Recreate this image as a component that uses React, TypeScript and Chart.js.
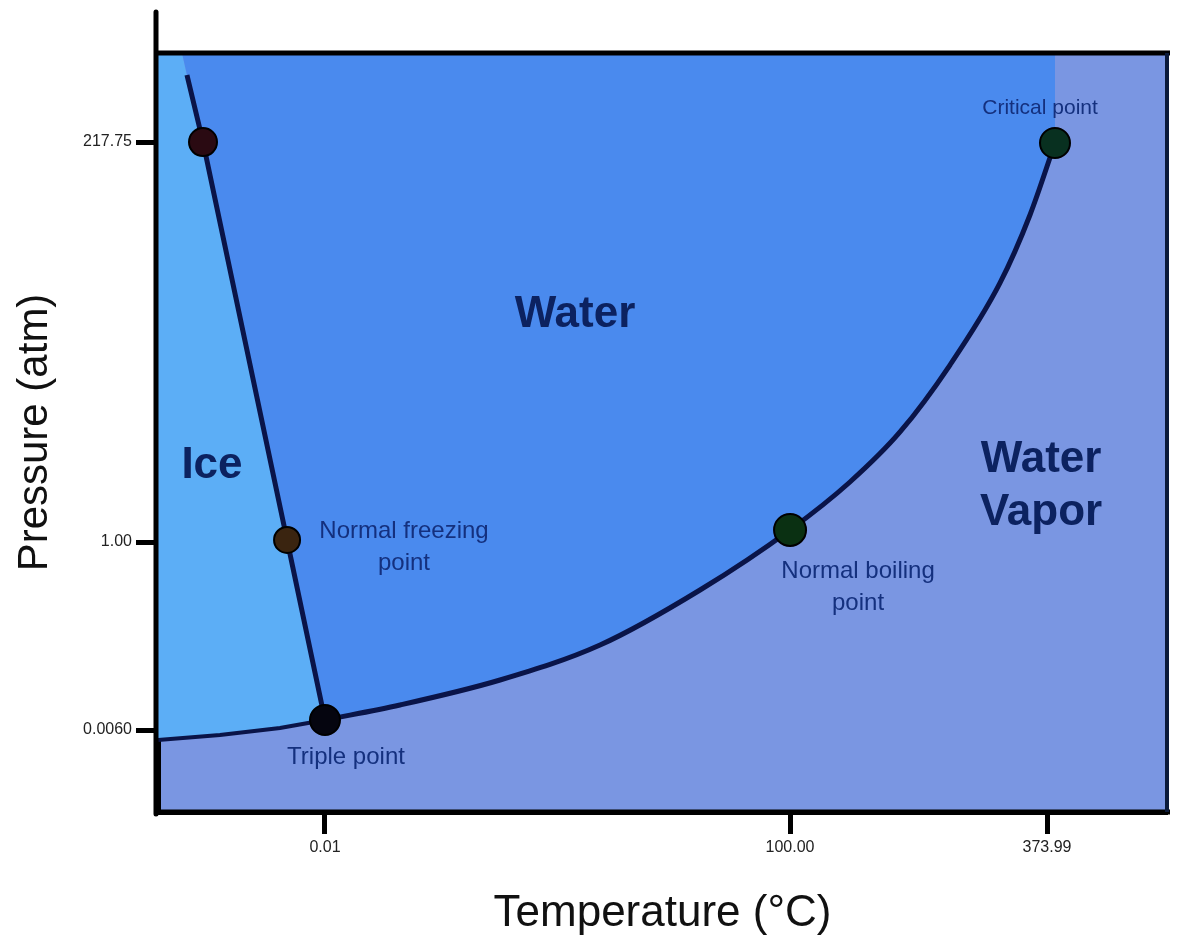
import { useEffect, useRef } from "react";
import { Chart, registerables } from "chart.js";

Chart.register(...registerables);

// Schematic diagram coordinates (0..100 on both axes, not to scale)
const meltX = [2.87, 4.46, 12.79, 16.55];
const meltY = [97.1, 88.27, 35.84, 12.12];
const meltTopX = 2.38; // where the melting line meets the top frame

const sublX = [0, 6.14, 12.09, 16.55];
const sublY = [9.49, 10.14, 11.07, 12.12];

const vapX = [16.55, 23.98, 33.9, 43.81, 53.72, 62.64, 68.58, 73.54, 78.49, 83.45, 86.42, 88.9];
const vapY = [12.12, 14.1, 17.39, 22.0, 29.25, 37.16, 43.48, 50.07, 58.89, 69.7, 78.66, 88.14];

const ptX = [4.46, 12.79, 16.55, 62.64, 88.9];
const ptY = [88.27, 35.84, 12.12, 37.16, 88.14];
const ptRadius = [14, 13, 15, 16, 15];
const ptColor = ["#2a0a12", "#3a2410", "#05050f", "#0a3012", "#083020"];

const xTickPos = [16.55, 62.64, 88.11];
const xTickLabels = ["0.01", "100.00", "373.99"];
const yTickPos = [10.8, 35.57, 88.27];
const yTickLabels = ["0.0060", "1.00", "217.75"];

const labelText = ["Water", "Ice", "Water", "Vapor", "Normal freezing", "point", "Normal boiling", "point", "Triple point", "Critical point"];
const labelX = [41.33, 5.35, 87.52, 87.52, 24.38, 24.38, 69.38, 69.38, 18.63, 87.42];
const labelY = [65.48, 45.59, 46.38, 39.39, 37.02, 32.81, 31.75, 27.54, 7.25, 92.75];
const labelBig = [true, true, true, true, false, false, false, false, false, false];

const ICE = "#5caef6";
const WATER = "#4a8aee";
const VAPOR = "#7a96e2";
const LINE = "#0a1448";

const xy = (xs: number[], ys: number[]) => xs.map((x, i) => ({ x, y: ys[i] }));

export default function App() {
  const ref = useRef<HTMLCanvasElement | null>(null);

  useEffect(() => {
    if (!ref.current) return;
    const melt = xy(meltX, meltY);
    const subl = xy(sublX, sublY);
    const vap = xy(vapX, vapY);

    const icePoly = [
      { x: 0, y: 100 },
      { x: meltTopX, y: 100 },
      ...melt,
      ...subl.slice().reverse(),
    ];
    const waterPoly = [
      { x: meltTopX, y: 100 },
      ...melt,
      ...vap.slice(1),
      { x: vapX[vapX.length - 1], y: 100 },
    ];

    const phasePlugin = {
      id: "phase",
      beforeDraw(chart: any) {
        const { ctx, chartArea: a } = chart;
        ctx.save();
        ctx.fillStyle = "#ffffff";
        ctx.fillRect(0, 0, chart.width, chart.height);
        ctx.fillStyle = VAPOR;
        ctx.fillRect(a.left, a.top, a.right - a.left, a.bottom - a.top);
        ctx.restore();
      },
      afterDatasetsDraw(chart: any) {
        const { ctx, chartArea: a } = chart;
        const xs = chart.scales.x;
        const ys = chart.scales.y;
        ctx.save();
        // frame
        ctx.lineCap = "round";
        ctx.strokeStyle = "#000";
        ctx.lineWidth = 5;
        ctx.beginPath();
        ctx.moveTo(a.left - 2, 12);
        ctx.lineTo(a.left - 2, a.bottom + 2);
        ctx.stroke();
        ctx.lineCap = "butt";
        ctx.beginPath();
        ctx.moveTo(a.left - 2, a.bottom);
        ctx.lineTo(a.right + 3, a.bottom);
        ctx.stroke();
        ctx.beginPath();
        ctx.moveTo(a.left - 2, a.top);
        ctx.lineTo(a.right + 3, a.top);
        ctx.stroke();
        ctx.strokeStyle = "#0b1a3a";
        ctx.lineWidth = 4;
        ctx.beginPath();
        ctx.moveTo(a.right, a.top);
        ctx.lineTo(a.right, a.bottom);
        ctx.stroke();
        // labels
        ctx.textAlign = "center";
        ctx.textBaseline = "middle";
        for (let i = 0; i < labelText.length; i++) {
          const px = xs.getPixelForValue(labelX[i]);
          const py = ys.getPixelForValue(labelY[i]);
          if (labelBig[i]) {
            ctx.font = "bold 44px 'Liberation Sans', Arial, sans-serif";
            ctx.fillStyle = "#0c2260";
          } else {
            ctx.font = (i === 9 ? "21px" : "24px") + " 'Liberation Sans', Arial, sans-serif";
            ctx.fillStyle = "#14307e";
          }
          ctx.fillText(labelText[i], px, py);
        }
        ctx.restore();
      },
    };

    const chart = new Chart(ref.current, {
      type: "line",
      data: {
        datasets: [
          {
            data: ptX.map((x, i) => ({ x, y: ptY[i] })),
            showLine: false,
            pointRadius: ptRadius,
            pointBackgroundColor: ptColor,
            pointBorderColor: "#000",
            pointBorderWidth: 2,
            order: 0,
          } as any,
          {
            data: melt,
            borderColor: LINE,
            borderWidth: 5,
            pointRadius: 0,
            fill: false,
            order: 1,
          },
          {
            data: vap,
            borderColor: LINE,
            borderWidth: 5,
            pointRadius: 0,
            cubicInterpolationMode: "monotone",
            fill: false,
            order: 1,
          },
          {
            data: subl,
            borderColor: LINE,
            borderWidth: 4,
            pointRadius: 0,
            fill: false,
            order: 1,
          },
          {
            data: waterPoly,
            borderWidth: 0,
            borderColor: "rgba(0,0,0,0)",
            backgroundColor: WATER,
            pointRadius: 0,
            fill: "shape",
            order: 2,
          } as any,
          {
            data: icePoly,
            borderWidth: 0,
            borderColor: "rgba(0,0,0,0)",
            backgroundColor: ICE,
            pointRadius: 0,
            fill: "shape",
            order: 3,
          } as any,
        ],
      },
      options: {
        responsive: false,
        animation: false,
        devicePixelRatio: 1,
        parsing: true as any,
        layout: { padding: { top: 53, right: 26, left: 0, bottom: 0 } },
        plugins: {
          legend: { display: false },
          tooltip: { enabled: false },
          filler: { drawTime: "beforeDatasetsDraw" } as any,
        },
        scales: {
          x: {
            type: "linear",
            min: 0,
            max: 100,
            afterBuildTicks: (s: any) => {
              s.ticks = xTickPos.map((v) => ({ value: v }));
            },
            afterFit: (s: any) => {
              s.height = 128;
            },
            ticks: {
              autoSkip: false,
              maxRotation: 0,
              callback: (_v: any, i: number) => xTickLabels[i],
              font: { size: 16, family: "'Liberation Sans', Arial, sans-serif" },
              color: "#222",
              padding: 4,
            },
            grid: {
              drawOnChartArea: false,
              drawTicks: true,
              tickLength: 22,
              tickWidth: 5,
              tickColor: "#000",
            },
            border: { display: true, color: "#000", width: 5 },
            title: {
              display: true,
              text: "Temperature (°C)",
              font: { size: 44, family: "'Liberation Sans', Arial, sans-serif" },
              color: "#111",
              padding: { top: 0, bottom: 0 },
            },
          },
          y: {
            type: "linear",
            min: 0,
            max: 100,
            afterBuildTicks: (s: any) => {
              s.ticks = yTickPos.map((v) => ({ value: v }));
            },
            afterFit: (s: any) => {
              s.width = 158;
            },
            ticks: {
              autoSkip: false,
              callback: (_v: any, i: number) => yTickLabels[i],
              font: { size: 16, family: "'Liberation Sans', Arial, sans-serif" },
              color: "#222",
              padding: 4,
            },
            grid: {
              drawOnChartArea: false,
              drawTicks: true,
              tickLength: 22,
              tickWidth: 5,
              tickColor: "#000",
            },
            border: { display: true, color: "#000", width: 5 },
            title: {
              display: true,
              text: "Pressure (atm)",
              font: { size: 42, family: "'Liberation Sans', Arial, sans-serif" },
              color: "#111",
              padding: { top: 10, bottom: 0 },
            },
          },
        },
      } as any,
      plugins: [phasePlugin],
    });
    return () => chart.destroy();
  }, []);

  return (
    <div style={{ position: "fixed", left: 0, top: 0, width: 1193, height: 940, background: "#fff" }}>
      <canvas ref={ref} width={1193} height={940} style={{ display: "block", width: 1193, height: 940 }} />
    </div>
  );
}
